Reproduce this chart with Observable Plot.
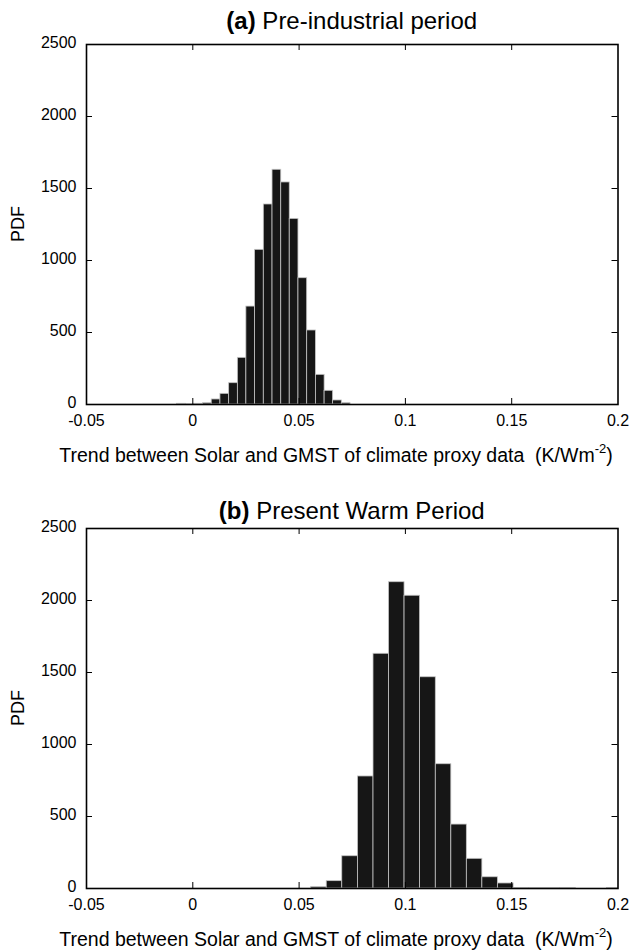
<!DOCTYPE html>
<html>
<head>
<meta charset="utf-8">
<script src="https://cdn.jsdelivr.net/npm/d3@7"></script>
<script src="https://cdn.jsdelivr.net/npm/@observablehq/plot@0.6"></script>
<style>
  html, body { margin: 0; padding: 0; background: #fff; }
  svg { display: block; }
  #chart { width: 632px; }
</style>
</head>
<body>
<div id="chart"></div>
<script>
// ---- data ----
const xTicks = [-0.05, 0, 0.05, 0.1, 0.15, 0.2];
const yTicks = [0, 500, 1000, 1500, 2000, 2500];

// (a) Pre-industrial period: histogram bin edges and counts
const edgesA = [-0.0074, -0.0033, 0.0007, 0.0048, 0.0089, 0.0130, 0.0171, 0.0212, 0.0252, 0.0293,
                0.0334, 0.0375, 0.0416, 0.0456, 0.0497, 0.0538, 0.0579, 0.0620, 0.0660, 0.0701, 0.0742];
const countsA = [5, 1, 5, 9, 35, 74, 148, 324, 680, 1074, 1389, 1630, 1542, 1289, 877, 514, 206, 95, 28, 9];

// (b) Present Warm Period
const edgesB = [0.0557, 0.0630, 0.0703, 0.0777, 0.0850, 0.0923, 0.0996, 0.1069, 0.1143, 0.1216,
                0.1289, 0.1362, 0.1435, 0.1509, 0.1582, 0.1655, 0.1728, 0.1801, 0.1875, 0.1948, 0.2021];
const countsB = [10, 51, 224, 778, 1630, 2127, 2033, 1467, 863, 444, 206, 78, 35, 4, 4, 4, 4, 0, 0, 4];

const titleA = ["(a)", " Pre-industrial period"];
const titleB = ["(b)", " Present Warm Period"];
const xLabel = "Trend between Solar and GMST of climate proxy data  (K/Wm";
const xLabelSup = "-2";
const yLabel = "PDF";

// ---- drawing ----
const FONT = "'Liberation Sans', Arial, Helvetica, sans-serif";
const W = 632;

function panel(edges, counts, title, height, marginBottom, titleY) {
  const bins = counts.map((c, i) => ({x1: edges[i], x2: edges[i + 1], count: c}));
  const mL = 86, mR = 14.5, mT = 44;
  const frameW = W - mL - mR;
  const frameH = height - mT - marginBottom;
  const tick = 6;
  const inner = xTicks.slice(1, -1);
  const innerY = yTicks.slice(1, -1);
  const plot = Plot.plot({
    width: W,
    height,
    marginLeft: mL,
    marginRight: mR,
    marginTop: mT,
    marginBottom,
    style: {fontFamily: FONT, fontSize: "16px", color: "#000", background: "#fff", overflow: "visible"},
    x: {domain: [-0.05, 0.2]},
    y: {domain: [0, 2500]},
    marks: [
      Plot.rectY(bins, {x1: "x1", x2: "x2", y: "count", fill: "#161616", stroke: "#c4c4c4", strokeWidth: 0.8, clip: true}),
      Plot.tickX(inner, {x: d => d, stroke: "#000", strokeWidth: 1, insetTop: frameH - tick}),
      Plot.tickX(inner, {x: d => d, stroke: "#000", strokeWidth: 1, insetBottom: frameH - tick}),
      Plot.tickY(innerY, {y: d => d, stroke: "#000", strokeWidth: 1, insetRight: frameW - tick}),
      Plot.tickY(innerY, {y: d => d, stroke: "#000", strokeWidth: 1, insetLeft: frameW - tick}),
      Plot.frame({stroke: "#000", strokeWidth: 1.6}),
      Plot.axisX({ticks: xTicks, tickSize: 0, tickPadding: 10, tickFormat: d => String(d), fontSize: 16, label: null}),
      Plot.axisY({ticks: yTicks, tickSize: 0, tickPadding: 10, tickFormat: d => String(d), fontSize: 16, label: null, dy: -2})
    ]
  });
  const svg = d3.select(plot);
  // title
  const t = svg.append("text")
    .attr("x", mL + frameW / 2)
    .attr("y", titleY)
    .attr("text-anchor", "middle")
    .attr("font-family", FONT)
    .attr("font-size", 24)
    .attr("fill", "#000")
    .style("white-space", "pre");
  t.append("tspan").attr("font-weight", "bold").text(title[0]);
  t.append("tspan").text(title[1]);
  // x label
  const xl = svg.append("text")
    .attr("x", 336)
    .attr("y", mT + frameH + 58)
    .attr("text-anchor", "middle")
    .attr("font-family", FONT)
    .attr("font-size", 19.5)
    .attr("fill", "#000")
    .style("white-space", "pre");
  xl.append("tspan").text(xLabel);
  xl.append("tspan").attr("font-size", 13).attr("dy", -9).text(xLabelSup);
  xl.append("tspan").attr("dy", 9).text(")");
  // y label
  svg.append("text")
    .attr("transform", `translate(24,${mT + frameH / 2}) rotate(-90)`)
    .attr("text-anchor", "middle")
    .attr("font-family", FONT)
    .attr("font-size", 18)
    .attr("fill", "#000")
    .text(yLabel);
  return plot;
}

const chart = document.getElementById("chart");
chart.appendChild(panel(edgesA, countsA, titleA, 484, 80, 29));
chart.appendChild(panel(edgesB, countsB, titleB, 466, 62, 35));
</script>
</body>
</html>
